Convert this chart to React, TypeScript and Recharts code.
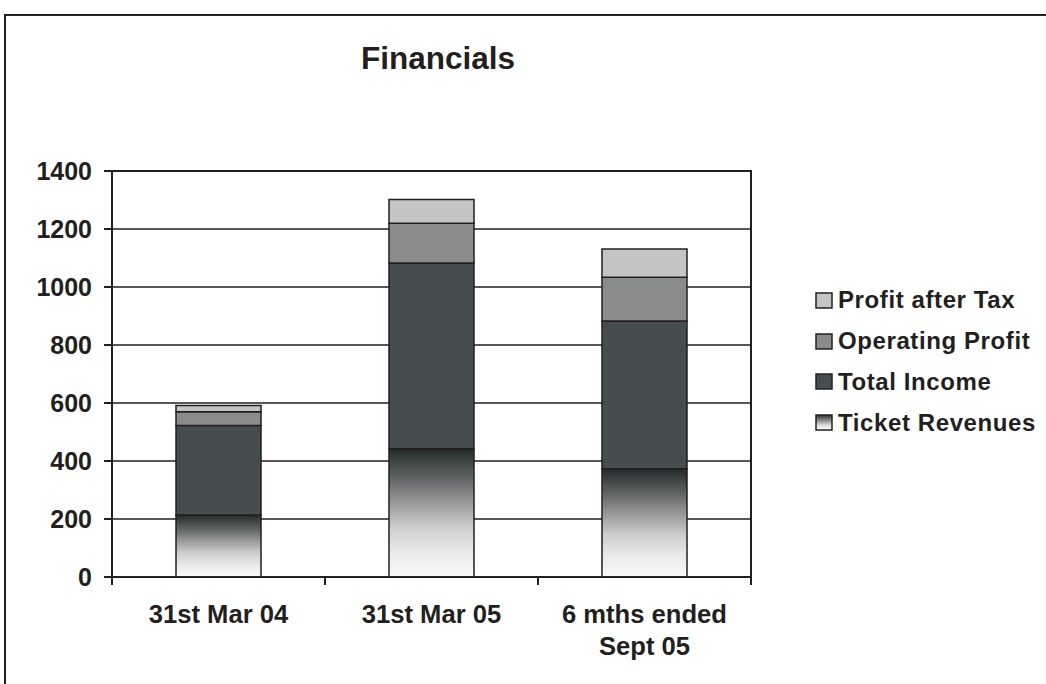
import React from 'react';
import { BarChart, Bar, XAxis, YAxis, CartesianGrid, ReferenceArea } from 'recharts';

const categories = ['31st Mar 04', '31st Mar 05', '6 mths ended Sept 05'];
const ticketRevenues = [214, 442, 373];
const totalIncome = [308, 641, 510];
const operatingProfit = [48, 137, 151];
const profitAfterTax = [21, 82, 97];
const yTicks = [0, 200, 400, 600, 800, 1000, 1200, 1400];

const data = categories.map((c, i) => ({
  category: c,
  ticket: ticketRevenues[i],
  income: totalIncome[i],
  op: operatingProfit[i],
  pat: profitAfterTax[i],
}));

const FONT = '"Liberation Sans", Arial, Helvetica, sans-serif';
const INK = '#231f20';
const X_TICK_MARGIN = 28;
const BOUNDARY_TICK = 8;

const series = [
  { key: 'ticket', name: 'Ticket Revenues', fill: 'url(#ticketGrad)' },
  { key: 'income', name: 'Total Income', fill: '#464d4f' },
  { key: 'op', name: 'Operating Profit', fill: '#8a8c8b' },
  { key: 'pat', name: 'Profit after Tax', fill: '#c4c4c4' },
];

const wrapWords = (s: string, max: number) => {
  const words = s.split(' ');
  const lines: string[] = [];
  let cur = '';
  words.forEach((w) => {
    const t = cur ? cur + ' ' + w : w;
    if (t.length > max && cur) {
      lines.push(cur);
      cur = w;
    } else cur = t;
  });
  if (cur) lines.push(cur);
  return lines;
};

const XTick = (props: any) => {
  const { x, y, payload, index, visibleTicksCount } = props;
  const lines = wrapWords(String(payload.value), 14);
  const half = payload && payload.offset ? payload.offset : 0;
  const axisY = y - X_TICK_MARGIN;
  const isLast = index === (visibleTicksCount || categories.length) - 1;
  return (
    <g>
      {half > 0 && (
        <line x1={x - half} x2={x - half} y1={axisY} y2={axisY + BOUNDARY_TICK} stroke={INK} strokeWidth={2} />
      )}
      {half > 0 && isLast && (
        <line x1={x + half} x2={x + half} y1={axisY} y2={axisY + BOUNDARY_TICK} stroke={INK} strokeWidth={2} />
      )}
      <text x={x} y={y} textAnchor="middle" fill={INK} fontSize={25.6} fontWeight="bold" fontFamily={FONT}>
        {lines.map((l, i) => (
          <tspan key={i} x={x} dy={i === 0 ? '0.71em' : 32}>
            {l}
          </tspan>
        ))}
      </text>
    </g>
  );
};

export default function App() {
  return (
    <div style={{ position: 'absolute', left: 0, top: 0, width: 1046, height: 684, overflow: 'hidden', background: '#fff', fontFamily: FONT }}>
      <div style={{ position: 'absolute', left: 4, top: 14, width: 1100, height: 800, border: `2px solid ${INK}` }} />
      <div
        style={{
          position: 'absolute',
          left: 438,
          top: 42.6,
          transform: 'translateX(-50%)',
          fontSize: 31.5,
          lineHeight: '31.5px',
          fontWeight: 'bold',
          color: INK,
          whiteSpace: 'nowrap',
        }}
      >
        Financials
      </div>
      <div style={{ position: 'absolute', left: 0, top: 0 }}>
        <BarChart width={1046} height={684} data={data} margin={{ top: 171, right: 295, bottom: 27, left: 12 }}>
          <defs>
            <linearGradient id="ticketGrad" x1="0" y1="0" x2="0" y2="1">
              <stop offset="0%" stopColor="#232a2a" />
              <stop offset="6%" stopColor="#343b3b" />
              <stop offset="22%" stopColor="#5e6262" />
              <stop offset="42%" stopColor="#9a9a9a" />
              <stop offset="62%" stopColor="#cfcfcf" />
              <stop offset="82%" stopColor="#ebebeb" />
              <stop offset="100%" stopColor="#fafafa" />
            </linearGradient>
          </defs>
          <CartesianGrid vertical={false} stroke={INK} strokeWidth={1.5} />
          <XAxis
            dataKey="category"
            interval={0}
            tickLine={false}
            tickSize={0}
            tickMargin={X_TICK_MARGIN}
            height={80}
            axisLine={{ stroke: INK, strokeWidth: 2 }}
            tick={<XTick />}
          />
          <YAxis
            domain={[0, 1400]}
            ticks={yTicks}
            interval={0}
            width={100}
            tickSize={8}
            tickMargin={12}
            tickLine={{ stroke: INK, strokeWidth: 2 }}
            axisLine={{ stroke: INK, strokeWidth: 2 }}
            tick={{ fill: INK, fontSize: 25, fontWeight: 'bold', fontFamily: FONT }}
          />
          <ReferenceArea y1={0} y2={1400} fill="none" fillOpacity={0} stroke={INK} strokeWidth={2} ifOverflow="visible" />
          {series.map((s) => (
            <Bar
              key={s.key}
              dataKey={s.key}
              name={s.name}
              stackId="a"
              fill={s.fill}
              stroke={INK}
              strokeWidth={1.5}
              barSize={85}
              isAnimationActive={false}
            />
          ))}
        </BarChart>
      </div>
      <div style={{ position: 'absolute', left: 815, top: 280 }}>
        {[...series].reverse().map((s) => (
          <div key={s.key} style={{ height: 40.8, display: 'flex', alignItems: 'center' }}>
            <svg width={18} height={17} style={{ marginRight: 5, flex: 'none' }}>
              <defs>
                <linearGradient id={'lg_' + s.key} x1="0" y1="0" x2="0" y2="1">
                  <stop offset="0%" stopColor="#2a3030" />
                  <stop offset="35%" stopColor="#8a8a8a" />
                  <stop offset="70%" stopColor="#e0e0e0" />
                  <stop offset="100%" stopColor="#fafafa" />
                </linearGradient>
              </defs>
              <rect
                x={1}
                y={1}
                width={16}
                height={15}
                fill={s.key === 'ticket' ? 'url(#lg_ticket)' : s.fill}
                stroke={INK}
                strokeWidth={1.5}
              />
            </svg>
            <span style={{ fontSize: 24, letterSpacing: 0.6, fontWeight: 'bold', color: INK, whiteSpace: 'nowrap' }}>
              {s.name}
            </span>
          </div>
        ))}
      </div>
    </div>
  );
}
